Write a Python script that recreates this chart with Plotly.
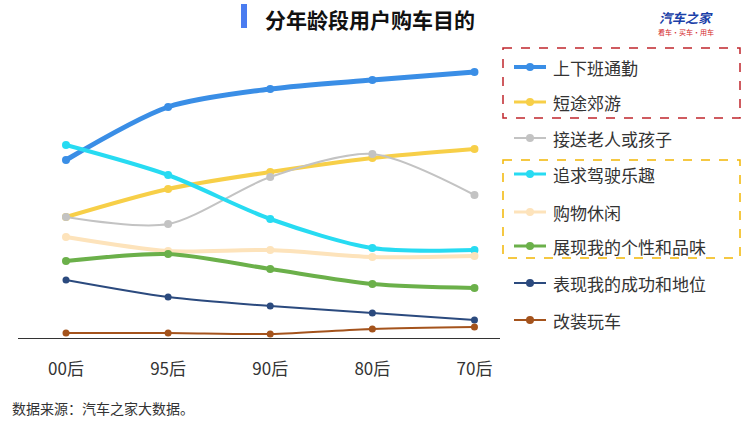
import plotly.graph_objects as go

categories = ["00后", "95后", "90后", "80后", "70后"]
series_names = ["上下班通勤", "短途郊游", "接送老人或孩子", "追求驾驶乐趣",
                "购物休闲", "展现我的个性和品味", "表现我的成功和地位", "改装玩车"]
commute = [178, 231, 249, 258, 266]
trip = [121, 149, 166, 180, 189]
pickup = [121, 114, 161, 184, 143]
driving = [193, 163, 119, 90, 88]
shopping = [101, 87, 88, 81, 82]
personality = [77, 84, 69, 54, 50]
success = [58, 41, 32, 25, 18]
modding = [5, 5, 4, 9, 11]
values = [commute, trip, pickup, driving, shopping, personality, success, modding]
colors = ["#3a8ee6", "#f7cf48", "#c3c3c3", "#27dbf2", "#fde3bb", "#6bb04a", "#2b4a7e", "#a4531c"]
widths = [5, 4, 2, 4, 4, 4, 2, 2]
sizes = [8, 8, 8, 8, 8, 8, 7, 7]

fig = go.Figure()
xs = list(range(len(categories)))
for name, v, c, w, s in zip(series_names, values, colors, widths, sizes):
    fig.add_trace(go.Scatter(x=xs, y=v, mode="lines+markers", name=name,
                             line=dict(color=c, width=w, shape="spline", smoothing=0.8),
                             marker=dict(color=c, size=s), showlegend=False))

L, R, T, B = 18, 500, 58, 338
def px(x): return (x - L) / (R - L)
def py(y): return (B - y) / (B - T)

shapes, ann = [], []
leg_y = [67, 102, 138, 174, 212, 246, 283, 320]
for name, c, w, y in zip(series_names, colors, widths, leg_y):
    shapes.append(dict(type="line", xref="paper", yref="paper", x0=px(514), x1=px(546),
                       y0=py(y), y1=py(y), line=dict(color=c, width=max(w - 1, 2))))
    shapes.append(dict(type="circle", xref="paper", yref="paper", x0=px(526), x1=px(534),
                       y0=py(y + 4), y1=py(y - 4), fillcolor=c, line=dict(width=0)))
    ann.append(dict(text=name, xref="paper", yref="paper", x=px(551), y=py(y), xanchor="left",
                    yanchor="middle", showarrow=False, font=dict(size=17, color="#333")))
shapes.append(dict(type="rect", xref="paper", yref="paper", x0=px(503), x1=px(740), y0=py(48), y1=py(118),
                   line=dict(color="#c0262c", width=1.5, dash="dash")))
shapes.append(dict(type="rect", xref="paper", yref="paper", x0=px(503), x1=px(740), y0=py(160), y1=py(258),
                   line=dict(color="#f2b705", width=1.5, dash="dash")))
shapes.append(dict(type="rect", xref="paper", yref="paper", x0=px(241), x1=px(247), y0=py(4), y1=py(28),
                   fillcolor="#4a7cf0", line=dict(width=0)))
ann += [
    dict(text="<b>分年龄段用户购车目的</b>", xref="paper", yref="paper", x=px(370), y=py(19),
         xanchor="center", yanchor="middle", showarrow=False, font=dict(size=21, color="#111")),
    dict(text="<b><i>汽车之家</i></b>", xref="paper", yref="paper", x=px(686), y=py(17),
         xanchor="center", yanchor="middle", showarrow=False, font=dict(size=13, color="#1a3fa8")),
    dict(text="看车·买车·用车", xref="paper", yref="paper", x=px(686), y=py(32),
         xanchor="center", yanchor="middle", showarrow=False, font=dict(size=7, color="#d4262b")),
    dict(text="数据来源：汽车之家大数据。", xref="paper", yref="paper", x=px(10), y=py(408),
         xanchor="left", yanchor="middle", showarrow=False, font=dict(size=14, color="#333")),
]

fig.update_layout(
    width=744, height=440, margin=dict(l=L, r=744 - R, t=T, b=440 - B),
    plot_bgcolor="white", paper_bgcolor="white",
    font=dict(family="Noto Sans CJK SC"),
    xaxis=dict(range=[-0.47, 4.25], tickvals=xs, ticktext=categories, showgrid=False,
               zeroline=False, showline=True, linecolor="#333", linewidth=1,
               tickfont=dict(size=17, color="#333"), ticks="", ticklabelstandoff=16),
    yaxis=dict(range=[0, 280], visible=False),
    shapes=shapes, annotations=ann,
)
fig.write_html("out.html", config={"displayModeBar": False},
               post_script="document.body.style.margin='0';")
